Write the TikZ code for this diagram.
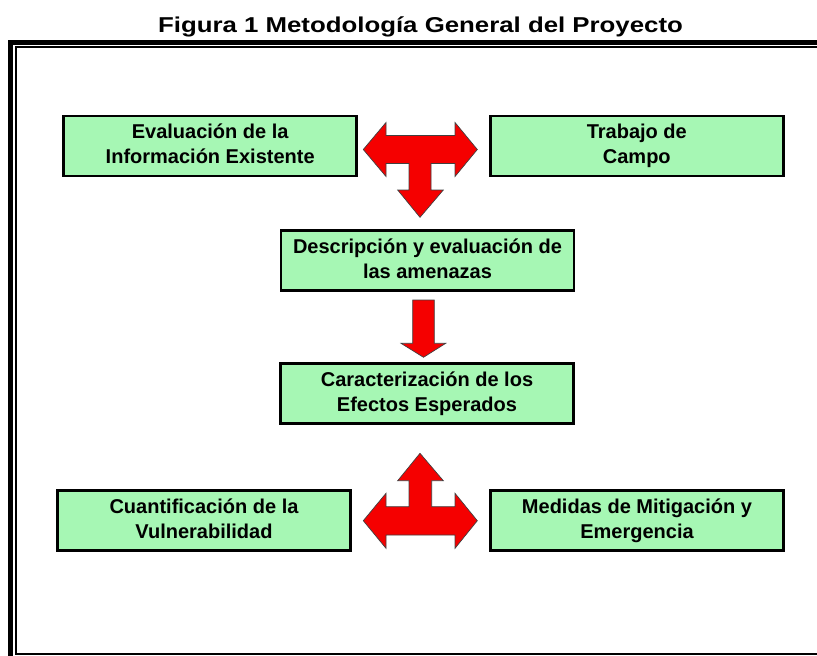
\documentclass[tikz,border=0pt]{standalone}
\usepackage{fontspec}
\setmainfont{Liberation Sans}
\newfontfamily\titlefont[FakeStretch=1.2]{Liberation Sans}
\definecolor{verdecaja}{RGB}{166,247,180}
\definecolor{rojoflecha}{RGB}{245,0,0}

\begin{document}
\begin{tikzpicture}[x=1pt,y=-1pt,
   caja/.style={draw=black,line width=2.5pt,fill=verdecaja,rectangle,
      minimum width=293pt,minimum height=60pt,align=center,inner sep=0pt,
      font=\fontsize{20}{25}\selectfont\bfseries,
      execute at begin node={\rule{0pt}{30.5pt}},
      execute at end node={\rule[-3.5pt]{0pt}{3.5pt}}},
   flecha/.style={fill=rojoflecha,draw=black!75,line width=0.7pt,line join=miter}]
   \useasboundingbox (0,0) rectangle (817,656);
   \clip (0,0) rectangle (817,656);
   \draw[line width=4.6pt] (10.6,42.2) rectangle (840,680);
   \draw[line width=1.8pt] (15.7,47) rectangle (826,654);
   \node[anchor=base,inner sep=0pt] (titulo) at (420.5,32.7)
      {\titlefont\fontsize{21.5}{25}\selectfont\bfseries Figura 1 Metodología General del Proyecto};

   \node[caja] (evaluacion) at (210.2,145.9) {Evaluación de la\\Información Existente};
   \node[caja] (campo) at (636.8,145.9) {Trabajo de\\Campo};
   \node[caja] (descripcion) at (427.5,260.3) {Descripción y evaluación de\\las amenazas};
   \node[caja] (efectos) at (427,393.5) {Caracterización de los\\Efectos Esperados};
   \node[caja] (cuantificacion) at (204,520.7) {Cuantificación de la\\Vulnerabilidad};
   \node[caja] (medidas) at (637,520.7) {Medidas de Mitigación y\\Emergencia};

   \draw[flecha] (363.3,149.5) -- (386,122.5) -- (386,135.5) -- (455,135.5) -- (455,122.5)
      -- (477.3,149.5) -- (455,176.5) -- (455,163.5) -- (431,163.5) -- (431,190)
      -- (443.3,190) -- (420,217.3) -- (397.7,190) -- (409,190) -- (409,163.5)
      -- (386,163.5) -- (386,176.5) -- cycle;
   \draw[flecha] (412.7,300) -- (434.3,300) -- (434.3,343.3) -- (445.7,343.3)
      -- (423.5,357.3) -- (401,343.3) -- (412.7,343.3) -- cycle;
   \draw[flecha] (420,453.3) -- (443.3,480.7) -- (431.7,480.7) -- (431.7,506.7)
      -- (455,506.7) -- (455,493.3) -- (477.3,520.7) -- (455,548.3) -- (455,535)
      -- (386,535) -- (386,548.3) -- (363.3,520.7) -- (386,493.3) -- (386,506.7)
      -- (409,506.7) -- (409,480.7) -- (397.7,480.7) -- cycle;
\end{tikzpicture}
\end{document}
